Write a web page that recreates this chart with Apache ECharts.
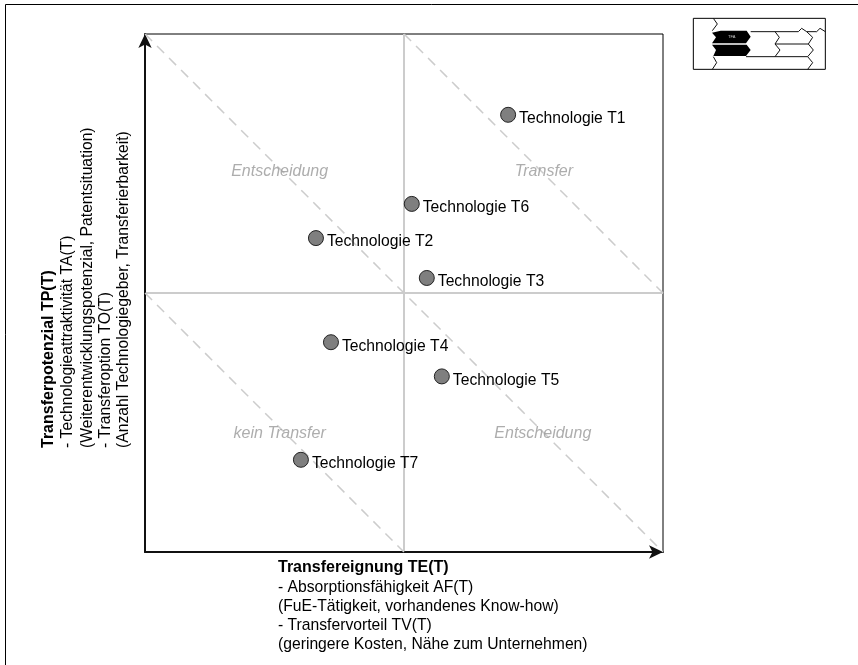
<!DOCTYPE html>
<html>
<head>
<meta charset="utf-8">
<title>Transferportfolio</title>
<style>
  html, body { margin: 0; padding: 0; background: #fff; }
  #chart { width: 858px; height: 665px; }
</style>
<script src="https://cdn.jsdelivr.net/npm/echarts@6/dist/echarts.min.js"></script>
</head>
<body>
<div id="chart"></div>
<script>
const technologies = ['Technologie T1', 'Technologie T2', 'Technologie T3', 'Technologie T4', 'Technologie T5', 'Technologie T6', 'Technologie T7'];
const transferEignung = [70.1, 33, 54.4, 35.9, 57.3, 51.5, 30.1];
const transferPotenzial = [84.4, 60.6, 52.9, 40.5, 33.9, 67.2, 17.8];

const quadrantNames = ['Entscheidung', 'Transfer', 'kein Transfer', 'Entscheidung'];
const quadrantX = [26, 77, 26, 76.8];
const quadrantY = [73.4, 73.4, 22.8, 22.8];

const diagonals = [
  [[0, 100], [100, 0]],
  [[0, 50], [50, 0]],
  [[50, 100], [100, 50]]
];

const yAxisLines = [
  'Transferpotenzial TP(T)',
  '- Technologieattraktivität TA(T)',
  '(Weiterentwicklungspotenzial, Patentsituation)',
  '- Transferoption TO(T)',
  '(Anzahl Technologiegeber, Transferierbarkeit)'
];
const xAxisLines = [
  'Transfereignung TE(T)',
  '- Absorptionsfähigkeit AF(T)',
  '(FuE-Tätigkeit, vorhandenes Know-how)',
  '- Transfervorteil TV(T)',
  '(geringere Kosten, Nähe zum Unternehmen)'
];

const fontFamily = '"Liberation Sans", Arial, sans-serif';
const yLineX = [49, 68, 88, 106, 124];
const xLineY = [568, 588, 607, 626, 645];

const chart = echarts.init(document.getElementById('chart'));

// small navigation thumbnail top right, drawn at 3x and scaled down
const thumbLines = [
  [[100, 55], [112, 72], [97, 92]],
  [[100, 170], [110, 188], [97, 208]],
  [[212, 95], [225, 95], [355, 95], [365, 85], [380, 95], [410, 95], [420, 85], [436, 95]],
  [[285, 95], [298, 112], [285, 132], [300, 150], [285, 170]],
  [[380, 95], [398, 112], [385, 132], [400, 150], [383, 170], [398, 188], [383, 208]],
  [[285, 132], [385, 132]],
  [[198, 170], [383, 170]]
];
const thumbBlack = [
  [[122, 92], [200, 92], [212, 110], [198, 130], [96, 130], [108, 112], [96, 98]],
  [[96, 134], [200, 134], [212, 150], [198, 168], [100, 168], [108, 150]]
];

const textStyle = (text, bold) => ({
  text,
  fill: '#000',
  font: (bold ? 'bold 16px ' : '15.7px ') + fontFamily,
  textVerticalAlign: 'middle'
});

const graphic = [
  { type: 'line', shape: { x1: 5.5, y1: 4.5, x2: 858, y2: 4.5 }, style: { stroke: '#000', lineWidth: 1 } },
  { type: 'line', shape: { x1: 5.5, y1: 4.5, x2: 5.5, y2: 665 }, style: { stroke: '#000', lineWidth: 1 } },
  {
    type: 'group',
    x: 680,
    y: 0,
    scaleX: 1 / 3,
    scaleY: 1 / 3,
    children: [
      { type: 'rect', shape: { x: 40, y: 55, width: 396, height: 153 }, style: { fill: '#fff', stroke: '#000', lineWidth: 3 } },
      ...thumbBlack.map(points => ({ type: 'polygon', shape: { points }, style: { fill: '#000' } })),
      ...thumbLines.map(points => ({ type: 'polyline', shape: { points }, style: { fill: 'none', stroke: '#111', lineWidth: 3 } })),
      { type: 'text', x: 155, y: 111, style: { text: 'TFA', fill: '#ccc', font: '12px ' + fontFamily, textAlign: 'center', textVerticalAlign: 'middle' } }
    ]
  },
  ...yAxisLines.map((line, i) => ({
    type: 'text',
    x: yLineX[i],
    y: 448,
    rotation: Math.PI / 2,
    style: textStyle(line, i === 0)
  })),
  ...xAxisLines.map((line, i) => ({
    type: 'text',
    x: 278,
    y: xLineY[i],
    style: textStyle(line, i === 0)
  }))
];

const option = {
  animation: false,
  backgroundColor: '#fff',
  textStyle: { fontFamily },
  grid: {
    left: 145,
    top: 34,
    width: 518,
    height: 518,
    show: true,
    borderColor: '#000',
    borderWidth: 1,
    backgroundColor: 'transparent'
  },
  xAxis: {
    type: 'value',
    min: 0,
    max: 100,
    interval: 50,
    axisLabel: { show: false },
    axisTick: { show: false },
    axisLine: { show: true, lineStyle: { color: '#111', width: 2 }, symbol: ['none', 'arrow'], symbolSize: [10, 14] },
    splitLine: { show: true, showMinLine: false, showMaxLine: false, lineStyle: { color: '#ccc', width: 2 } }
  },
  yAxis: {
    type: 'value',
    min: 0,
    max: 100,
    interval: 50,
    axisLabel: { show: false },
    axisTick: { show: false },
    axisLine: { show: true, lineStyle: { color: '#111', width: 2 }, symbol: ['none', 'arrow'], symbolSize: [10, 14] },
    splitLine: { show: true, showMinLine: false, showMaxLine: false, lineStyle: { color: '#ccc', width: 2 } }
  },
  graphic,
  series: [
    ...diagonals.map(data => ({
      type: 'line',
      data,
      symbol: 'none',
      silent: true,
      z: 1,
      lineStyle: { color: '#ccc', width: 1.5, type: [10, 7] }
    })),
    {
      type: 'scatter',
      symbolSize: 0,
      silent: true,
      z: 2,
      data: quadrantNames.map((name, i) => ({ name, value: [quadrantX[i], quadrantY[i]] })),
      label: {
        show: true,
        position: 'inside',
        formatter: '{b}',
        color: '#999',
        fontStyle: 'italic',
        fontSize: 16,
        fontFamily
      }
    },
    {
      type: 'scatter',
      symbol: 'circle',
      symbolSize: 15,
      z: 3,
      itemStyle: { color: '#7f7f7f', borderColor: '#222', borderWidth: 1, opacity: 1 },
      data: technologies.map((name, i) => ({ name, value: [transferEignung[i], transferPotenzial[i]] })),
      label: {
        show: true,
        position: 'right',
        distance: 3,
        offset: [0, 4],
        formatter: '{b}',
        color: '#000',
        fontSize: 15.7,
        fontFamily
      }
    }
  ]
};

chart.setOption(option);
</script>
</body>
</html>
